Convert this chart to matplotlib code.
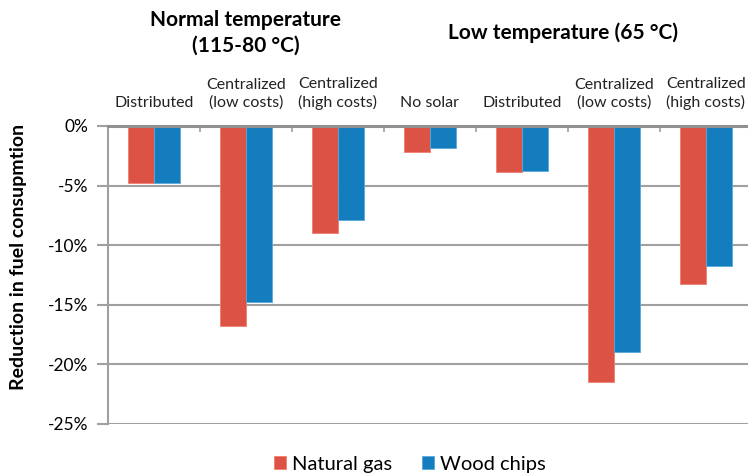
import matplotlib.pyplot as plt
import numpy as np
from matplotlib.transforms import blended_transform_factory

plt.rcParams['font.family'] = ['Lato', 'DejaVu Sans']

# data (percent change in fuel use)
categories = ["Distributed", "Centralized\n(low costs)", "Centralized\n(high costs)",
              "No solar", "Distributed", "Centralized\n(low costs)", "Centralized\n(high costs)"]
natural_gas = [-4.74, -16.77, -8.97, -2.14, -3.87, -21.45, -13.29]
wood_chips = [-4.79, -14.74, -7.91, -1.84, -3.76, -19.0, -11.75]
yticks = [0, -5, -10, -15, -20, -25]

RED = "#DC5345"
BLUE = "#137DBE"
GRID = "#A0A0A0"

fig = plt.figure(figsize=(7.48, 4.75), dpi=100)
ax = fig.add_axes([108 / 748, 1 - 424 / 475, 644 / 748, 298 / 475])

x = np.arange(len(categories))
w = 0.285
ax.bar(x - w / 2, natural_gas, w, color=RED, edgecolor="#F08070", linewidth=0.6,
       label="Natural gas", zorder=3)
ax.bar(x + w / 2, wood_chips, w, color=BLUE, edgecolor="#5AA8DA", linewidth=0.6,
       label="Wood chips", zorder=3)

ax.set_xlim(-0.5, len(categories) - 0.5)
ax.set_ylim(-25, 0)
ax.set_yticks(yticks)
ax.set_yticklabels([f"{v}%" for v in yticks], fontsize=12.5)
ax.yaxis.grid(True, color=GRID, linewidth=1.5, zorder=0)
ax.tick_params(axis="y", length=8, width=1.5, color=GRID, pad=6)

# category boundaries as small ticks hanging from the 0% line
ax.set_xticks(np.arange(0.5, len(categories) - 0.5, 1))
ax.set_xticklabels([])
ax.xaxis.set_ticks_position("top")
ax.tick_params(axis="x", direction="in", length=4, width=1.2, color=GRID)

for side in ["right", "bottom"]:
    ax.spines[side].set_visible(False)
ax.spines["left"].set_color(GRID)
ax.spines["left"].set_linewidth(1.5)
ax.spines["top"].set_color("#909090")
ax.spines["top"].set_linewidth(2.2)
ax.spines["top"].set_zorder(4)

trans = blended_transform_factory(ax.transData, ax.transAxes)
for i, c in enumerate(categories):
    ax.text(i, 1.055, c, transform=trans, ha="center", va="bottom", fontsize=11.5,
            linespacing=1.3, color="#222222")

ax.text(1, 1.235, "Normal temperature\n(115-80 °C)", transform=trans, ha="center",
        va="bottom", fontsize=15, fontweight="bold", linespacing=1.35)
ax.text(4.45, 1.28, "Low temperature (65 °C)", transform=trans, ha="center",
        va="bottom", fontsize=15, fontweight="bold")

ax.set_ylabel("Reduction in fuel consupmtion", fontsize=14, fontweight="bold")
ax.yaxis.set_label_coords(-0.125, 0.56)

ax.legend(loc="upper center", bbox_to_anchor=(0.469, -0.045), ncol=2, frameon=False,
          fontsize=14.5, handlelength=0.6, handleheight=0.6, handletextpad=0.3,
          columnspacing=1.5)

fig.savefig("out.png", dpi=100)
